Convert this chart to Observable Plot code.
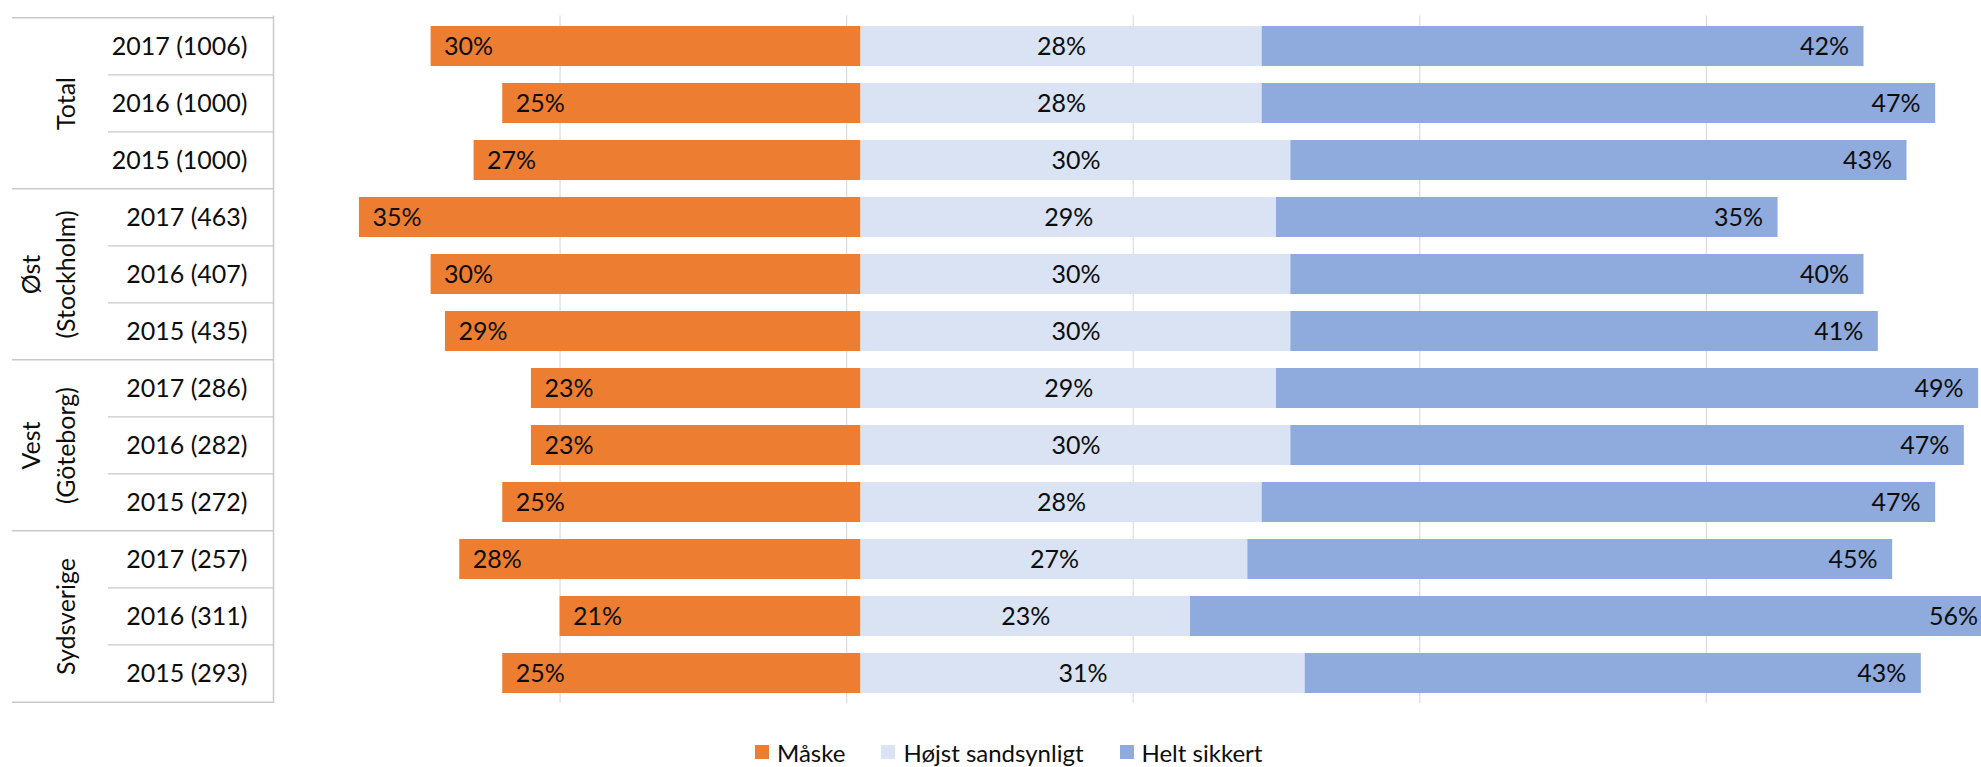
<!DOCTYPE html>
<html>
<head>
<meta charset="utf-8">
<script src="https://cdn.jsdelivr.net/npm/d3@7"></script>
<script src="https://cdn.jsdelivr.net/npm/@observablehq/plot@0.6"></script>
<style>
  html, body { margin: 0; padding: 0; background: #fff; overflow: hidden; }
  #chart svg { display: block; }
  #legend { display: flex; align-items: center; height: 60px; padding-left: 755px;
            font-family: Lato, sans-serif; font-size: 24px; color: #0d0d0d; }
  #legend .item { display: flex; align-items: center; margin-right: 36px; }
  #legend .sw { width: 14px; height: 14px; margin-right: 8px; }
</style>
</head>
<body>
<div id="chart"></div>
<div id="legend"></div>
<script>
// ---- data ----
const groupNames = ["Total", "Øst\n(Stockholm)", "Vest\n(Göteborg)", "Sydsverige"];
const rowGroup   = [0, 0, 0, 1, 1, 1, 2, 2, 2, 3, 3, 3];
const rowLabels  = ["2017 (1006)", "2016 (1000)", "2015 (1000)",
                    "2017 (463)", "2016 (407)", "2015 (435)",
                    "2017 (286)", "2016 (282)", "2015 (272)",
                    "2017 (257)", "2016 (311)", "2015 (293)"];
const maske = [30, 25, 27, 35, 30, 29, 23, 23, 25, 28, 21, 25];
const hojst = [28, 28, 30, 29, 30, 30, 29, 30, 28, 27, 23, 31];
const helt  = [42, 47, 43, 35, 40, 41, 49, 47, 47, 45, 56, 43];
const seriesNames  = ["Måske", "Højst sandsynligt", "Helt sikkert"];
const seriesColors = ["#ED7D31", "#DAE3F3", "#8FAADC"];
const gridTicks = [-21, -1, 19, 39, 59];
const xDomain = [-41, 78.2];

// ---- derived tables ----
const keys = rowLabels.map((l, i) => groupNames[rowGroup[i]] + "|" + l);
const bars = [];
keys.forEach((k, i) => {
  bars.push({key: k, series: seriesNames[0], x1: -maske[i], x2: 0, value: maske[i]});
  bars.push({key: k, series: seriesNames[1], x1: 0, x2: hojst[i], value: hojst[i]});
  bars.push({key: k, series: seriesNames[2], x1: hojst[i], x2: hojst[i] + helt[i], value: helt[i]});
});
const rows = keys.map((k, i) => ({key: k, label: rowLabels[i], group: rowGroup[i],
  first: i === 0 || rowGroup[i] !== rowGroup[i - 1]}));
const groupLabels = groupNames.map((g, gi) => {
  const idx = rowGroup.map((r, i) => r === gi ? i : -1).filter(i => i >= 0);
  return {key: keys[idx[Math.floor(idx.length / 2)]], label: g};
});

// ---- layout ----
const W = 1981, H = 722, mL = 273, mR = 0, mT = 15.5, mB = 19;
const step = (H - mT - mB) / keys.length;
const tableLeft = 12, rowLineLeft = 108;
const lineColor = "#c9c9c9";
const fmt = d => d.value + "%";

const chart = Plot.plot({
  width: W, height: H,
  marginLeft: mL, marginRight: mR, marginTop: mT, marginBottom: mB,
  style: {fontFamily: "Lato, sans-serif", fontSize: "25px", color: "#0d0d0d", background: "#fff"},
  x: {domain: xDomain, axis: null},
  y: {domain: keys, paddingInner: 0.3, paddingOuter: 0.15, axis: null},
  color: {domain: seriesNames, range: seriesColors},
  marks: [
    Plot.ruleX(gridTicks, {stroke: "#dcdcdc", strokeWidth: 1.2}),
    Plot.barX(bars, {y: "key", x1: "x1", x2: "x2", fill: "series"}),
    Plot.text(bars.filter(d => d.series === seriesNames[0]),
      {y: "key", x: "x1", text: fmt, textAnchor: "start", dx: 13, fontSize: 25}),
    Plot.text(bars.filter(d => d.series === seriesNames[1]),
      {y: "key", x: d => (d.x1 + d.x2) / 2, text: fmt, textAnchor: "middle", fontSize: 25}),
    Plot.text(bars.filter(d => d.series === seriesNames[2]),
      {y: "key", x: "x2", text: fmt, textAnchor: "end", dx: -15, fontSize: 25}),
    // table: row labels
    Plot.text(rows, {y: "key", text: "label", frameAnchor: "left", dx: -26, textAnchor: "end", fontSize: 25}),
    // table: group labels
    Plot.text(groupLabels, {y: "key", text: "label", frameAnchor: "left", dx: 74.5 - mL,
      rotate: -90, textAnchor: "middle", lineAnchor: "bottom", lineHeight: 1.4, fontSize: 25}),
    // table: separators
    Plot.ruleY(rows.filter(d => !d.first), {y: "key", dy: -step / 2,
      insetLeft: rowLineLeft - mL, insetRight: W - mR - mL, stroke: lineColor, strokeWidth: 1.3}),
    Plot.ruleY(rows.filter(d => d.first), {y: "key", dy: -step / 2,
      insetLeft: tableLeft - mL, insetRight: W - mR - mL, stroke: lineColor, strokeWidth: 1.5}),
    Plot.ruleY(rows.slice(-1), {y: "key", dy: step / 2,
      insetLeft: tableLeft - mL, insetRight: W - mR - mL, stroke: lineColor, strokeWidth: 1.5}),
    Plot.ruleX([xDomain[0]], {stroke: lineColor, strokeWidth: 1.5})
  ]
});
document.getElementById("chart").appendChild(chart);

// ---- legend ----
const legend = d3.select("#legend");
seriesNames.forEach((n, i) => {
  const it = legend.append("div").attr("class", "item");
  it.append("div").attr("class", "sw").style("background", seriesColors[i]);
  it.append("span").text(n);
});
</script>
</body>
</html>
